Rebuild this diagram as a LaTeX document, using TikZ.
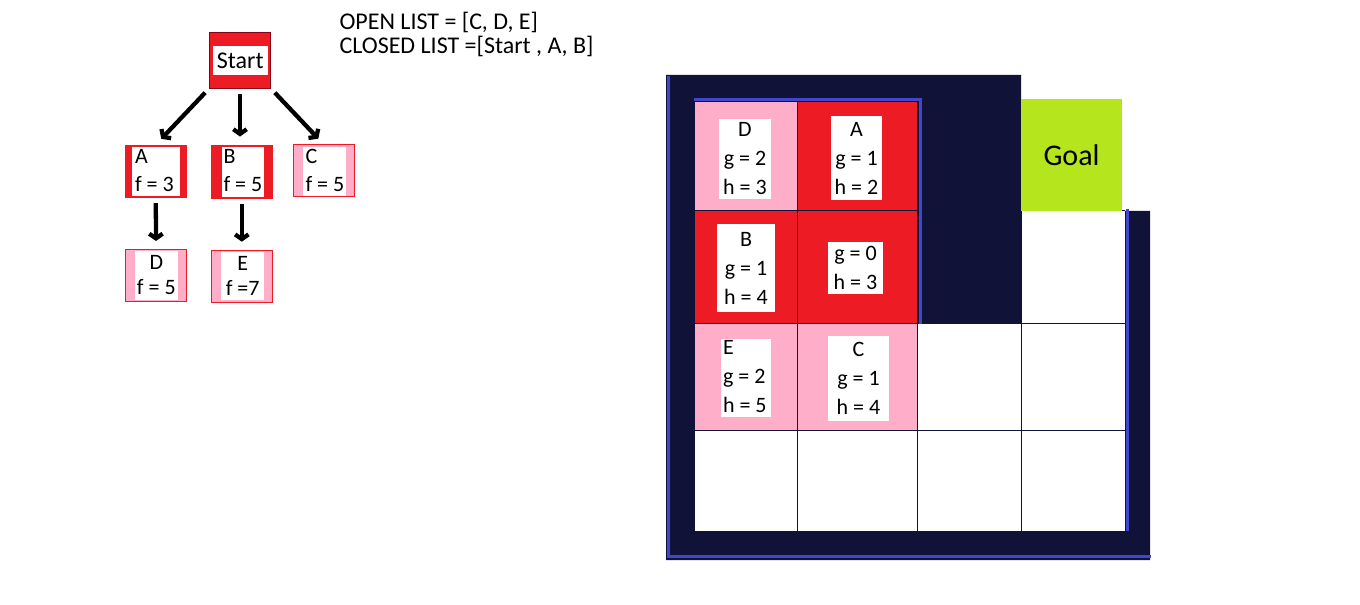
\documentclass[tikz,border=0pt]{standalone}
\usepackage{fontspec}
\setmainfont{Carlito}
\usetikzlibrary{arrows.meta}

\definecolor{wallnavy}{RGB}{16,18,56}
\definecolor{wallblue}{RGB}{63,72,204}
\definecolor{closedred}{RGB}{237,28,36}
\definecolor{openpink}{RGB}{255,174,201}
\definecolor{goallime}{RGB}{181,230,29}
\definecolor{startborder}{RGB}{136,0,21}

\tikzset{
	treebox/.style={rectangle, inner sep=0pt, line width=0.75pt, minimum width=46pt, minimum height=39pt},
	closedbox/.style={treebox, draw=closedred, fill=closedred},
	openbox/.style={treebox, draw=closedred, fill=openpink},
	whitebox/.style={rectangle, fill=white, inner sep=0pt},
	treetext/.style={inner sep=0pt, anchor=west, align=left, font=\fontsize{16.5}{21.4}\selectfont},
	celltext/.style={whitebox, font=\fontsize{16.5}{21.75}\selectfont, align=center},
	treearrow/.style={line width=3.2pt, -{Straight Barb[length=3.5pt,width=10pt]}, shorten <=4pt, shorten >=6pt},
	wallline/.style={wallblue, line width=2.2pt},
	gridline/.style={wallnavy, line width=0.75pt}
}
\tikzset{every picture/.style={line width=0.75pt}}

\begin{document}
\begin{tikzpicture}[x=0.75pt,y=0.75pt,yscale=-1,xscale=1]
	\useasboundingbox (0,0) rectangle (1360,605);
	
	%Shape: Wall
	\fill [wallnavy] (666,75) -- (1021,75) -- (1021,211) -- (1150,211) -- (1150,560) -- (666,560) -- cycle ;
	%Shape: Free cells
	\fill [white] (695,324) rectangle (1125,531) ;
	\fill [white] (1021,211) rectangle (1125,324) ;
	%Shape: Closed cells
	\fill [closedred] (797,102) rectangle (917,211) ;
	\fill [closedred] (695,211) rectangle (917,324) ;
	%Shape: Open cells
	\fill [openpink] (695,102) rectangle (797,211) ;
	\fill [openpink] (695,324) rectangle (917,431) ;
	%Straight Lines: grid
	\draw [gridline] (695,211) -- (917,211) ;
	\draw [gridline] (1021,211) -- (1125,211) ;
	\draw [gridline] (695,324) -- (1125,324) ;
	\draw [gridline] (695,431) -- (1125,431) ;
	\draw [gridline] (797,102) -- (797,531) ;
	\draw [gridline] (917,324) -- (917,531) ;
	\draw [gridline] (1021,211) -- (1021,531) ;
	%Straight Lines: wall edges
	\draw [wallline] (668.5,76) -- (668.5,556.5) -- (1151,556.5) ;
	\draw [wallline] (694,99.5) -- (920.5,99.5) -- (920.5,324) ;
	\draw [wallline] (1127.5,209) -- (1127.5,531) ;
	
	%Shape: Goal
	\node [fill=goallime, inner sep=0pt, minimum width=75.75pt, minimum height=84pt, font=\fontsize{22.5}{27}\selectfont] (goal) at (1071.5,155) {Goal};
	
	% Text Node
	\node [celltext, minimum width=39pt, minimum height=60pt] (cellD) at (745,159) {D\\g = 2\\h = 3};
	% Text Node
	\node [celltext, minimum width=38.25pt, minimum height=63pt] (cellA) at (856.5,158) {A\\g = 1\\h = 2};
	% Text Node
	\node [celltext, minimum width=43.5pt, minimum height=66pt] (cellB) at (746,268) {B\\g = 1\\h = 4};
	% Text Node
	\node [celltext, minimum width=41.25pt, minimum height=39pt] (cellS) at (855.5,268) {g = 0\\h = 3};
	% Text Node
	\node [whitebox, minimum width=37.5pt, minimum height=58.5pt] (cellE) at (746,378) {};
	\node [treetext, font=\fontsize{16.5}{21.75}\selectfont] (cellElbl) at (722.5,377) {E\\g = 2\\h = 5};
	% Text Node
	\node [celltext, minimum width=45.75pt, minimum height=63.75pt] (cellC) at (858.5,378.5) {C\\g = 1\\h = 4};
	
	% Text Node
	\draw (339,30) node [anchor=base west][inner sep=0pt] [font=\fontsize{18}{21}\selectfont] (openlist) {OPEN LIST = [C, D, E]};
	% Text Node
	\draw (339,53.5) node [anchor=base west][inner sep=0pt] [font=\fontsize{18}{21}\selectfont] (closedlist) {CLOSED LIST =[Start , A, B]};
	
	%Shape: Tree nodes
	\node [closedbox, draw=startborder, minimum height=42pt] (start) at (240,60.3) {};
	\node [whitebox, minimum width=41.25pt, minimum height=21.75pt, font=\fontsize{18}{21}\selectfont] (startlbl) at (240.2,60.5) {Start};
	
	\node [closedbox] (nA) at (155.8,171.2) {};
	\node [whitebox, minimum width=36.2pt, minimum height=36.75pt] (nAin) at (155.8,171.2) {};
	\node [treetext] (nAlbl) at (134.5,170.5) {A\\f = 3};
	
	\node [closedbox, minimum height=40pt] (nB) at (241.8,171.7) {};
	\node [whitebox, minimum width=32pt, minimum height=37.5pt] (nBin) at (243,171.7) {};
	\node [treetext] (nBlbl) at (223,170.5) {B\\f = 5};
	
	\node [openbox] (nC) at (323.8,171) {};
	\node [whitebox, minimum width=32pt, minimum height=36.75pt] (nCin) at (324.7,171.5) {};
	\node [treetext] (nClbl) at (305,170.5) {C\\f = 5};
	
	\node [openbox] (nD) at (156,275.5) {};
	\node [whitebox, font=\fontsize{16.5}{18.75}\selectfont, align=center, minimum width=32pt, minimum height=36.75pt] (nDlbl) at (156.3,275.5) {D\\f = 5};
	
	\node [openbox] (nE) at (241.8,276.2) {};
	\node [whitebox, font=\fontsize{16.5}{18.75}\selectfont, align=center, minimum width=32.5pt, minimum height=36.4pt] (nElbl) at (242.7,276.2) {E\\f =7};
	
	%Straight Lines: tree arrows
	\draw [treearrow] (start.south west) -- (nA.north) ;
	\draw [treearrow] (start.south) -- (start.south |- nB.north) ;
	\draw [treearrow] (start.south east) -- (nC.north) ;
	\draw [treearrow] (nA.south) -- (nD.north) ;
	\draw [treearrow] (nB.south) -- (nE.north) ;
	
\end{tikzpicture}
\end{document}
